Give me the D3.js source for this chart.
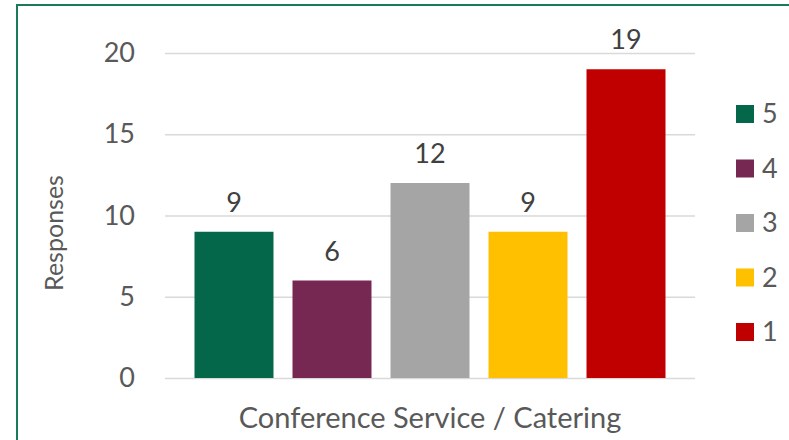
<!DOCTYPE html>
<html>
<head>
<meta charset="utf-8">
<script src="https://d3js.org/d3.v7.min.js"></script>
<style>
  html, body { margin: 0; padding: 0; background: #fff; }
  svg { display: block; font-family: Lato, "Open Sans", sans-serif; }
</style>
</head>
<body>
<svg></svg>
<script>

    var width = 789;
    var height = 440;
    var margin = ({top: 53, right: 94, bottom: 62, left: 165});

    // data
    var category = "Conference Service / Catering";
    var series = ["5", "4", "3", "2", "1"];
    var values = [9, 6, 12, 9, 19];
    var colors = ["#04674A", "#762853", "#A5A5A5", "#FFC000", "#C00000"];
    var yTicks = [0, 5, 10, 15, 20];

    var svg = d3.select("svg")
        .attr("width", width)
        .attr("height", height)
        .attr("viewBox", [0, 0, width, height]);

    // chart frame (only the left and top edges are visible)
    svg.append("rect")
        .attr("x", 17)
        .attr("y", 5)
        .attr("width", width + 20)
        .attr("height", height + 20)
        .attr("fill", "none")
        .attr("stroke", "#1b7a58")
        .attr("stroke-width", 2);

    var x = d3.scaleBand()
        .domain(series)
        .range([margin.left, width - margin.right])
        .paddingInner(0.194)
        .paddingOuter(0.301);

    var y = d3.scaleLinear()
        .domain([0, 20])
        .range([378, margin.top]);

    var color = d3.scaleOrdinal(series, colors);

    // gridlines + tick labels
    var yAxis = (g) =>
        g.attr("transform", `translate(${margin.left},0)`)
         .call(d3.axisLeft(y).tickValues(yTicks).tickSize(-(width - margin.right - margin.left)).tickPadding(30))
         .call((g) => g.select(".domain").remove())
         .call((g) => g.selectAll(".tick line").attr("stroke", "#d9d9d9").attr("stroke-width", 1.5))
         .call((g) => g.selectAll(".tick text")
            .attr("fill", "#595959")
            .attr("font-size", 27)
            .attr("font-family", "Lato, sans-serif"));

    svg.append("g").call(yAxis);

    // bars
    svg.append("g")
        .selectAll("rect")
        .data(values)
        .join("rect")
        .attr("x", (d, i) => x(series[i]))
        .attr("y", (d) => y(d))
        .attr("width", x.bandwidth())
        .attr("height", (d) => y(0) - y(d))
        .attr("fill", (d, i) => color(series[i]));

    // data labels
    svg.append("g")
        .selectAll("text")
        .data(values)
        .join("text")
        .attr("x", (d, i) => x(series[i]) + x.bandwidth() / 2)
        .attr("y", (d) => y(d) - 20)
        .attr("text-anchor", "middle")
        .attr("fill", "#404040")
        .attr("font-size", 27)
        .text((d) => d);

    // axis titles
    svg.append("text")
        .attr("x", (margin.left + width - margin.right) / 2)
        .attr("y", 428)
        .attr("text-anchor", "middle")
        .attr("fill", "#595959")
        .attr("font-size", 29)
        .text(category);

    svg.append("text")
        .attr("transform", "translate(63,233) rotate(-90)")
        .attr("text-anchor", "middle")
        .attr("fill", "#595959")
        .attr("font-size", 25)
        .text("Responses");

    // legend
    var legend = svg.append("g")
        .selectAll("g")
        .data(series)
        .join("g")
        .attr("transform", (d, i) => `translate(736,${105 + i * 54.5})`);

    legend.append("rect")
        .attr("width", 18)
        .attr("height", 18)
        .attr("fill", (d) => color(d));

    legend.append("text")
        .attr("x", 26)
        .attr("y", 9)
        .attr("dy", "0.35em")
        .attr("fill", "#595959")
        .attr("font-size", 27)
        .text((d) => d);

</script>
</body>
</html>
